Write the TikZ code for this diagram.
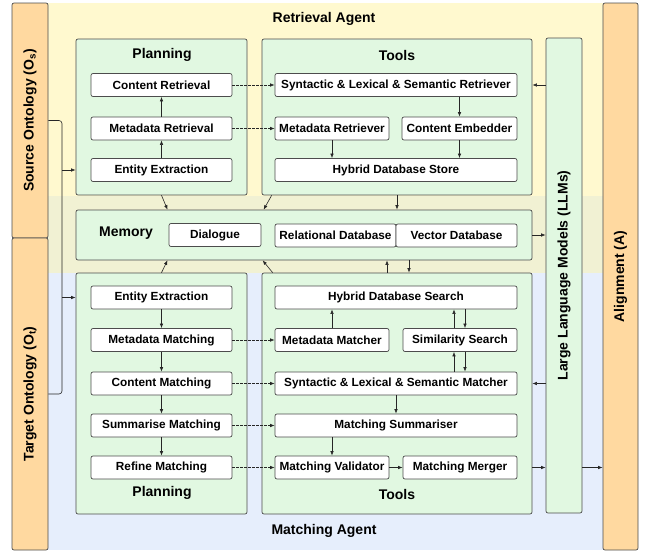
\documentclass[tikz,border=0pt]{standalone}
\usepackage{fontspec}
\setmainfont{Liberation Sans}
\usetikzlibrary{shapes,arrows.meta,positioning,calc}

\definecolor{ontoorange}{RGB}{255,217,160}
\definecolor{retyellow}{RGB}{255,249,207}
\definecolor{memolive}{RGB}{241,241,211}
\definecolor{matchblue}{RGB}{230,238,252}
\definecolor{panelgreen}{RGB}{225,248,225}

\newcommand{\itemfont}{\bfseries\fontsize{11.8}{13}\selectfont}
\newcommand{\headfont}{\bfseries\fontsize{14}{16}\selectfont}

\begin{document}
\begin{tikzpicture}[
    x=1pt, y=-1pt,
    panel/.style={rectangle, draw=black!70, fill=panelgreen, line width=0.7pt, rounded corners=2pt},
    side/.style={rectangle, draw=black!70, fill=ontoorange, line width=0.7pt, rounded corners=2pt},
    item/.style={rectangle, draw=black!70, fill=white, line width=0.7pt, rounded corners=2pt, minimum height=23pt, inner sep=1pt, font=\itemfont},
    plan/.style={item, minimum width=141pt},
    wide/.style={item, minimum width=242pt},
    half/.style={item, minimum width=114pt},
    head/.style={font=\headfont},
    arrow/.style={-{Latex[length=4.5pt,width=3.5pt]}, line width=0.6pt, black!85},
    link/.style={arrow, dash pattern=on 2.5pt off 1.5pt}
]
\useasboundingbox (0,0) rectangle (646,552);

% agent bands
\fill[retyellow] (48,3) rectangle (603,196);
\fill[memolive] (48,196) rectangle (603,273);
\fill[matchblue] (48,273) rectangle (603,550);

% ontologies, LLMs and alignment
\node[side, minimum width=36pt, minimum height=235pt, label={[rotate=90, font=\headfont]center:Source Ontology (O\textsubscript{s})}] (src) at (30,120.5) {};
\node[side, minimum width=36pt, minimum height=312pt, label={[rotate=90, font=\headfont]center:Target Ontology (O\textsubscript{t})}] (tgt) at (30,394) {};
\node[side, minimum width=35pt, minimum height=547pt, label={[rotate=90, font=\headfont]center:Alignment (A)}] (align) at (620.5,276.5) {};
\node[panel, minimum width=36pt, minimum height=475pt, label={[rotate=90, font=\headfont]center:Large Language Models (LLMs)}] (llm) at (564,275.5) {};

\node[head] (retAgent) at (324,19) {Retrieval Agent};
\node[head] (matAgent) at (324,531) {Matching Agent};

% retrieval agent
\node[panel, minimum width=171pt, minimum height=156pt] (rp) at (161.5,117) {};
\node[panel, minimum width=270pt, minimum height=156pt] (rt) at (397,117) {};
\node[head] (rpTitle) at (162,55) {Planning};
\node[head] (rtTitle) at (397,55) {Tools};

\node[plan] (rpContent) at (161.5,85) {Content Retrieval};
\node[plan] (rpMeta) at (161.5,128.5) {Metadata Retrieval};
\node[plan] (rpEntity) at (161.5,170) {Entity Extraction};

\node[wide] (rtSyn) at (396,85) {Syntactic \& Lexical \& Semantic Retriever};
\node[half] (rtMeta) at (332,128.5) {Metadata Retriever};
\node[half, minimum width=115pt] (rtEmb) at (459.5,128.5) {Content Embedder};
\node[wide] (rtStore) at (396,170) {Hybrid Database Store};

% memory
\node[panel, minimum width=456pt, minimum height=50pt] (mem) at (304,235) {};
\node[head] (memTitle) at (126,233) {Memory};
\node[item, minimum width=92pt] (memDia) at (215,235) {Dialogue};
\node[item, minimum width=121pt] (memRel) at (335.5,235.5) {Relational Database};
\node[item, minimum width=121pt] (memVec) at (456.5,235.5) {Vector Database};

% matching agent
\node[panel, minimum width=171pt, minimum height=241pt] (mp) at (161.5,393.5) {};
\node[panel, minimum width=270pt, minimum height=241pt] (mt) at (397,393.5) {};
\node[head] (mpTitle) at (162,493) {Planning};
\node[head] (mtTitle) at (397,494) {Tools};

\node[plan] (mpEntity) at (161.5,297.5) {Entity Extraction};
\node[plan] (mpMeta) at (161.5,340) {Metadata Matching};
\node[plan] (mpContent) at (161.5,383.5) {Content Matching};
\node[plan] (mpSum) at (161.5,425.5) {Summarise Matching};
\node[plan] (mpRefine) at (161.5,467.5) {Refine Matching};

\node[wide] (mtSearch) at (396,297.5) {Hybrid Database Search};
\node[half] (mtMeta) at (332,340) {Metadata Matcher};
\node[half] (mtSim) at (460,340) {Similarity Search};
\node[wide] (mtSyn) at (396,383.5) {Syntactic \& Lexical \& Semantic Matcher};
\node[wide] (mtSum) at (396,425.5) {Matching Summariser};
\node[half] (mtVal) at (332,467.5) {Matching Validator};
\node[half] (mtMerge) at (460,467.5) {Matching Merger};

% ontology inputs
\coordinate (feed) at (62,0);
\draw[line width=0.6pt, black!85, rounded corners=3pt] (src.east) -| (feed |- tgt.east) -- (tgt.east);
\draw[arrow] (feed |- rpEntity) -- (rp.west |- rpEntity);
\draw[arrow] (feed |- mpEntity) -- (mp.west |- mpEntity);

% retrieval flow
\draw[arrow] (rpEntity) -- (rpMeta);
\draw[arrow] (rpMeta) -- (rpContent);
\draw[link] (rpContent) -- (rpContent -| rtSyn.west);
\draw[link] (rpMeta) -- (rtMeta);
\draw[arrow] (rtSyn.south -| rtEmb) -- (rtEmb.north);
\draw[arrow] (rtMeta) -- (rtMeta.south |- rtStore.north);
\draw[arrow] (rtEmb) -- (rtEmb.south |- rtStore.north);
\draw[arrow] (llm.west |- rtSyn) -- (rt.east |- rtSyn);

% to and from memory
\draw[arrow] (rp.south) -- ([xshift=6pt]rp.south |- mem.north);
\draw[arrow] ([xshift=10pt]rt.south west) -- ([xshift=2pt]rt.south west |- mem.north);
\draw[arrow] (rt.south) -- (rt.south |- mem.north);
\draw[arrow] (mem.east) -- (mem.east -| llm.west);
\draw[arrow] (mp.north) -- ([xshift=6pt]mp.north |- mem.south);
\draw[arrow] ([xshift=11pt]mt.north west) -- ([xshift=1pt]mt.north west |- mem.south);
\draw[arrow] ([xshift=-10pt]mt.north) -- ([xshift=-10pt]mt.north |- mem.south);
\draw[arrow] ([xshift=12pt]mt.north |- mem.south) -- ([xshift=12pt]mt.north);

% matching flow
\draw[arrow] (mpEntity) -- (mpMeta);
\draw[arrow] (mpMeta) -- (mpContent);
\draw[arrow] (mpContent) -- (mpSum);
\draw[arrow] (mpSum) -- (mpRefine);
\draw[link] (mpMeta) -- (mtMeta);
\draw[link] (mpContent) -- (mtSyn);
\draw[link] (mpSum) -- (mtSum);
\draw[link] (mpRefine) -- (mtVal);

\draw[arrow] (mtMeta) -- (mtMeta.north |- mtSearch.south);
\draw[arrow] ([xshift=-6pt]mtSim.north) -- ([xshift=-6pt]mtSim.north |- mtSearch.south);
\draw[arrow] ([xshift=5pt]mtSim.north |- mtSearch.south) -- ([xshift=5pt]mtSim.north);
\draw[arrow] ([xshift=-6pt]mtSim.south |- mtSyn.north) -- ([xshift=-6pt]mtSim.south);
\draw[arrow] ([xshift=5pt]mtSim.south) -- ([xshift=5pt]mtSim.south |- mtSyn.north);
\draw[arrow] (mtSyn) -- (mtSum);
\draw[arrow] (mtSum.south -| mtVal) -- (mtVal.north);
\draw[arrow] (mtVal) -- (mtMerge);

\draw[arrow] (llm.west |- mtSyn) -- (mt.east |- mtSyn);
\draw[arrow] (mt.east |- mtMerge) -- (llm.west |- mtMerge);
\draw[arrow] (llm.east |- mtMerge) -- (align.west |- mtMerge);

\end{tikzpicture}
\end{document}
